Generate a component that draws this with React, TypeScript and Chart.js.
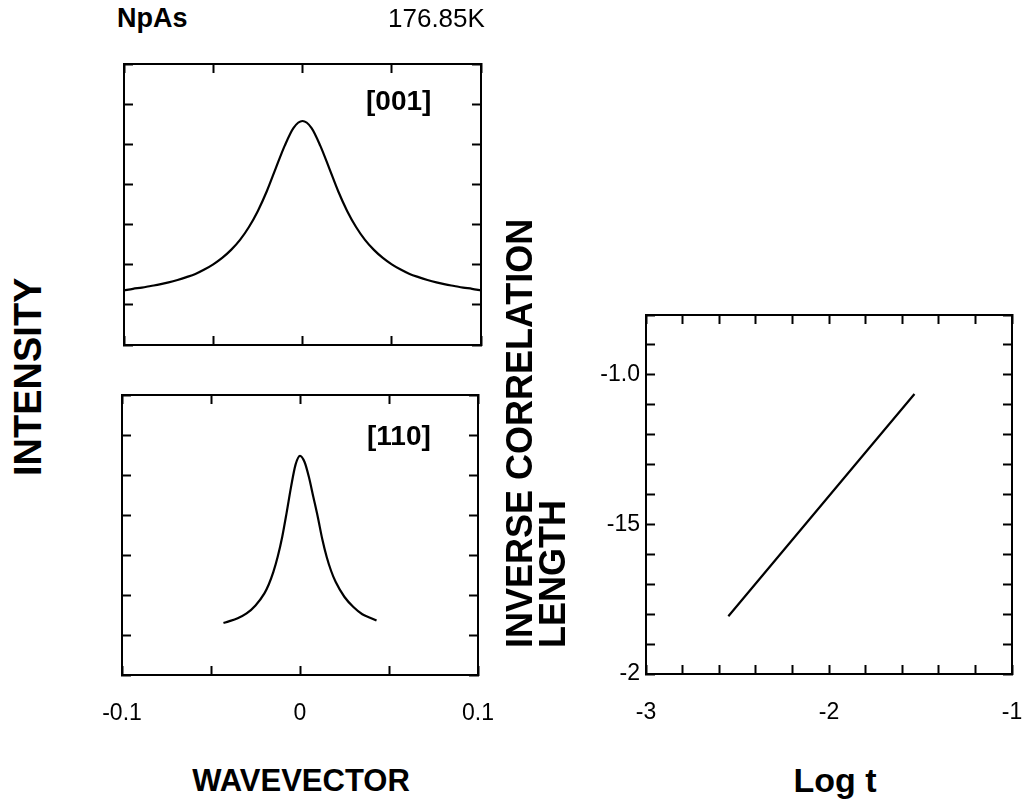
import React, { useEffect, useRef } from 'react';
import { Chart, registerables } from 'chart.js';

Chart.register(...registerables);

const FONT = '"Liberation Sans", Arial, Helvetica, sans-serif';

// Panel [001]: wavevector vs intensity
const q001 = [-0.1, -0.095, -0.09, -0.085, -0.08, -0.075, -0.07, -0.065, -0.06, -0.055, -0.05, -0.045, -0.04, -0.035, -0.03, -0.025, -0.02, -0.015, -0.01, -0.005, 0, 0.005, 0.01, 0.015, 0.02, 0.025, 0.03, 0.035, 0.04, 0.045, 0.05, 0.055, 0.06, 0.065, 0.07, 0.075, 0.08, 0.085, 0.09, 0.095, 0.1];
const i001 = [1.36, 1.4, 1.43, 1.47, 1.51, 1.56, 1.62, 1.69, 1.77, 1.88, 2.01, 2.17, 2.37, 2.62, 2.94, 3.34, 3.83, 4.4, 4.96, 5.41, 5.58, 5.41, 4.96, 4.4, 3.83, 3.34, 2.94, 2.62, 2.37, 2.17, 2.01, 1.88, 1.77, 1.69, 1.62, 1.56, 1.51, 1.47, 1.43, 1.4, 1.36];

// Panel [110]
const q110 = [-0.043, -0.04, -0.035, -0.03, -0.025, -0.02, -0.0175, -0.015, -0.0125, -0.01, -0.0075, -0.005, -0.0025, 0, 0.0025, 0.005, 0.0075, 0.01, 0.0125, 0.015, 0.0175, 0.02, 0.025, 0.03, 0.035, 0.04, 0.043];
const i110 = [1.3, 1.34, 1.42, 1.54, 1.74, 2.04, 2.27, 2.57, 2.96, 3.45, 4.06, 4.71, 5.26, 5.48, 5.33, 4.95, 4.45, 3.95, 3.4, 2.95, 2.6, 2.33, 1.95, 1.7, 1.52, 1.42, 1.36];

// Right panel: log t vs inverse correlation length
const logT = [-2.55, -1.533];
const invXi = [-1.807, -1.064];

// Axis ticks
const wvTicks = [-0.1, -0.05, 0, 0.05, 0.1];
const wvLabels = ['-0.1', '', '0', '', '0.1'];
const intTicks = [0, 1, 2, 3, 4, 5, 6, 7];
const logTicks = [-3, -2.8, -2.6, -2.4, -2.2, -2, -1.8, -1.6, -1.4, -1.2, -1];
const logLabels = ['-3', '', '', '', '', '-2', '', '', '', '', '-1'];
const icTicks = [-2, -1.9, -1.8, -1.7, -1.6, -1.5, -1.4, -1.3, -1.2, -1.1, -1.0, -0.9, -0.8];
const icLabels = ['-2', '', '', '', '', '-15', '', '', '', '', '-1.0', '', ''];

function axis(position: string, min: number, max: number, ticks: number[], labels: string[] | null, size: number, padding = 0) {
  const vertical = position === 'left' || position === 'right';
  return {
    type: 'linear',
    position,
    min,
    max,
    grid: { drawOnChartArea: false, drawTicks: true, tickLength: -9, tickColor: '#000', tickWidth: 2 },
    border: { display: true, color: '#000', width: 2 },
    afterBuildTicks: (s: any) => {
      s.ticks = ticks.map((v) => ({ value: v }));
    },
    afterFit: (s: any) => {
      if (vertical) s.width = size;
      else s.height = size;
    },
    ticks: {
      display: !!labels,
      autoSkip: false,
      maxRotation: 0,
      minRotation: 0,
      padding,
      color: '#000',
      font: { family: FONT, size: 23 },
      callback: (_v: any, i: number) => (labels ? labels[i] : ''),
    },
  };
}

function lineDataset(xs: number[], ys: number[]) {
  return {
    data: xs.map((x, i) => ({ x, y: ys[i] })),
    borderColor: '#000',
    borderWidth: 2.2,
    pointRadius: 0,
    cubicInterpolationMode: 'monotone',
    fill: false,
    xAxisID: 'x',
    yAxisID: 'y',
  };
}

function makeConfig(dataset: any, scales: any, padding: any) {
  return {
    type: 'line',
    data: { datasets: [dataset] },
    options: {
      responsive: false,
      animation: false,
      events: [],
      layout: { padding },
      plugins: { legend: { display: false }, tooltip: { enabled: false }, title: { display: false } },
      scales,
    },
  };
}

function Panel({ left, top, width, height, config }: { left: number; top: number; width: number; height: number; config: any }) {
  const ref = useRef<HTMLCanvasElement>(null);
  useEffect(() => {
    const chart = new Chart(ref.current as HTMLCanvasElement, config);
    return () => chart.destroy();
  }, []);
  return <canvas ref={ref} width={width} height={height} style={{ position: 'absolute', left, top, width, height }} />;
}

const topConfig = makeConfig(
  lineDataset(q001, i001),
  {
    x: axis('bottom', -0.1, 0.1, wvTicks, null, 15),
    x2: axis('top', -0.1, 0.1, wvTicks, null, 0),
    y: axis('left', 0, 7, intTicks, null, 44),
    y2: axis('right', 0, 7, intTicks, null, 0),
  },
  { left: 0, right: 39, top: 24, bottom: 0 }
);

const bottomConfig = makeConfig(
  lineDataset(q110, i110),
  {
    x: axis('bottom', -0.1, 0.1, wvTicks, wvLabels, 85, 34),
    x2: axis('top', -0.1, 0.1, wvTicks, null, 0),
    y: axis('left', 0, 7, intTicks, null, 62),
    y2: axis('right', 0, 7, intTicks, null, 0),
  },
  { left: 0, right: 62, top: 25, bottom: 0 }
);

const rightConfig = makeConfig(
  lineDataset(logT, invXi),
  {
    x: axis('bottom', -3, -1, logTicks, logLabels, 86, 34),
    x2: axis('top', -3, -1, logTicks, null, 0),
    y: axis('left', -2, -0.8, icTicks, icLabels, 106, 15),
    y2: axis('right', -2, -0.8, icTicks, null, 0),
  },
  { left: 0, right: 68, top: 65, bottom: 0 }
);

const txt = (extra: React.CSSProperties): React.CSSProperties => ({
  position: 'absolute',
  whiteSpace: 'nowrap',
  color: '#000',
  fontFamily: FONT,
  ...extra,
});

export default function App() {
  return (
    <div style={{ position: 'absolute', left: 0, top: 0, width: 1026, height: 806, background: '#fff', overflow: 'hidden' }}>
      <Panel left={80} top={40} width={440} height={320} config={topConfig} />
      <Panel left={60} top={370} width={480} height={390} config={bottomConfig} />
      <Panel left={540} top={250} width={540} height={510} config={rightConfig} />

      <div style={txt({ left: 117, top: 5, fontSize: 27, lineHeight: '27px', fontWeight: 'bold' })}>NpAs</div>
      <div style={txt({ left: 388, top: 5, fontSize: 26, lineHeight: '26px' })}>176.85K</div>
      <div style={txt({ left: 366, top: 87, fontSize: 28, lineHeight: '28px', fontWeight: 'bold' })}>[001]</div>
      <div style={txt({ left: 367, top: 422, fontSize: 28, lineHeight: '28px', fontWeight: 'bold' })}>[110]</div>

      <div style={txt({ left: 301, top: 780, fontSize: 31, lineHeight: 1, fontWeight: 'bold', transform: 'translate(-50%, -50%)' })}>WAVEVECTOR</div>
      <div style={txt({ left: 835, top: 780, fontSize: 34, lineHeight: 1, fontWeight: 'bold', transform: 'translate(-50%, -50%)' })}>Log t</div>

      <div style={txt({ left: 9, top: 476, fontSize: 38, lineHeight: '38px', fontWeight: 'bold', transformOrigin: 'left top', transform: 'rotate(-90deg)' })}>INTENSITY</div>
      <div style={txt({ left: 503, top: 648, fontSize: 36, lineHeight: '33px', fontWeight: 'bold', transformOrigin: 'left top', transform: 'rotate(-90deg)', zIndex: 2 })}>
        <div>INVERSE CORRELATION</div>
        <div>LENGTH</div>
      </div>
    </div>
  );
}
